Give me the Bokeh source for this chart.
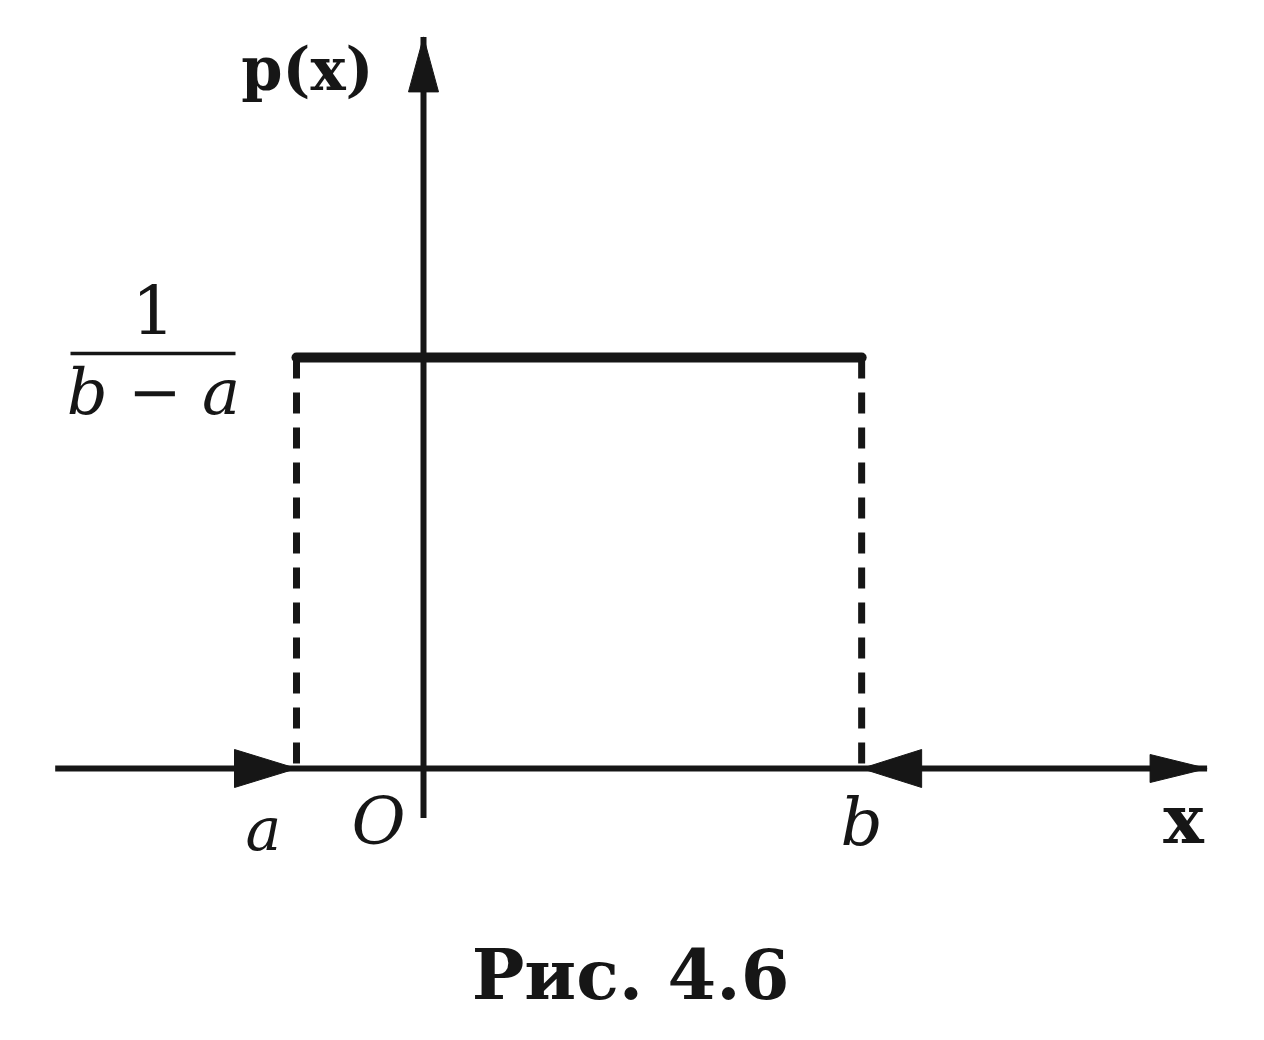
from bokeh.plotting import figure
from bokeh.models import Range1d
from bokeh.core.properties import value
from bokeh.embed import file_html
from bokeh.resources import INLINE

# ---- data (diagram values) ----
a_val = -1.0          # left end of the interval
b_val = 3.45          # right end of the interval
density = 1.0 / (b_val - a_val)   # p(x) on [a, b]
x_axis_ext = [-2.9, 6.17]         # x-axis extent
y_axis_ext = [-0.027, 0.40]       # y-axis extent
point_labels = ["a", "O", "b"]
axis_labels = ["p(x)", "x"]
caption = "Рис. 4.6"

# ---- layout (pixel scale of the sheet) ----
W, H = 1248, 1024
ux = 127.0     # px per x-unit
uy = 1829.0    # px per y-unit
ox, oy = 423.0, 768.0   # origin in frame pixels
def px_x(d): return d / ux
def px_y(d): return d / uy
def at_x(px): return (px - ox) / ux
def at_y(py): return (oy - py) / uy

INK = "#161616"
p = figure(width=W, height=H, toolbar_location=None, output_backend="svg",
           x_range=Range1d(-ox / ux, (W - ox) / ux),
           y_range=Range1d(-(H - oy) / uy, oy / uy),
           min_border=0)
p.axis.visible = False
p.grid.visible = False
p.outline_line_color = None
p.background_fill_color = "white"
p.border_fill_color = "white"

# axes
p.line(x_axis_ext, [0, 0], line_width=6, line_color=INK)
p.line([0, 0], y_axis_ext, line_width=6, line_color=INK)

# density plateau
p.line([a_val, b_val], [density, density], line_width=10, line_color=INK,
       line_cap="round")

# dashed verticals
for xv in (a_val, b_val):
    p.line([xv, xv], [density, 0], line_width=7, line_color=INK, line_dash="21 14")

# arrowheads
def head(tip_x, tip_y, direction, length, half):
    if direction == "right":
        xs = [tip_x, tip_x - px_x(length), tip_x - px_x(length)]
        ys = [tip_y, tip_y + px_y(half), tip_y - px_y(half)]
    elif direction == "left":
        xs = [tip_x, tip_x + px_x(length), tip_x + px_x(length)]
        ys = [tip_y, tip_y + px_y(half), tip_y - px_y(half)]
    else:  # up
        xs = [tip_x, tip_x - px_x(half), tip_x + px_x(half)]
        ys = [tip_y, tip_y - px_y(length), tip_y - px_y(length)]
    return xs, ys

heads = [head(a_val, 0, "right", 62, 19),
         head(b_val, 0, "left", 60, 19),
         head(x_axis_ext[1], 0, "right", 57, 14),
         head(0, y_axis_ext[1], "up", 55, 15)]
p.patches([h[0] for h in heads], [h[1] for h in heads],
          fill_color=INK, line_color=INK, line_width=1)

serif = value("DejaVu Serif")

def label(px, py, txt, size, style="normal", align="center"):
    p.text(x=[at_x(px)], y=[at_y(py)], text=[txt], text_font=serif,
           text_font_style=style, text_font_size=f"{size}px",
           text_align=align, text_baseline="alphabetic", text_color=INK)

# p(x) label
label(373, 69, axis_labels[0], 59, "bold", "right")

# fraction 1/(b-a)
label(153, 309, "1", 68)
p.line([at_x(70), at_x(235)], [at_y(353)] * 2, line_width=3.5, line_color=INK)
label(153, 391, "b − a", 64, "italic")

# point labels under the axis
label(263, 828, point_labels[0], 60, "italic")
label(378, 821, point_labels[1], 66, "italic")
label(861, 822, point_labels[2], 66, "italic")

# x label
label(1183, 818, axis_labels[1], 68, "bold")

# caption
label(630, 974, caption, 70, "bold")

open("out.html", "w").write(file_html(p, INLINE))
